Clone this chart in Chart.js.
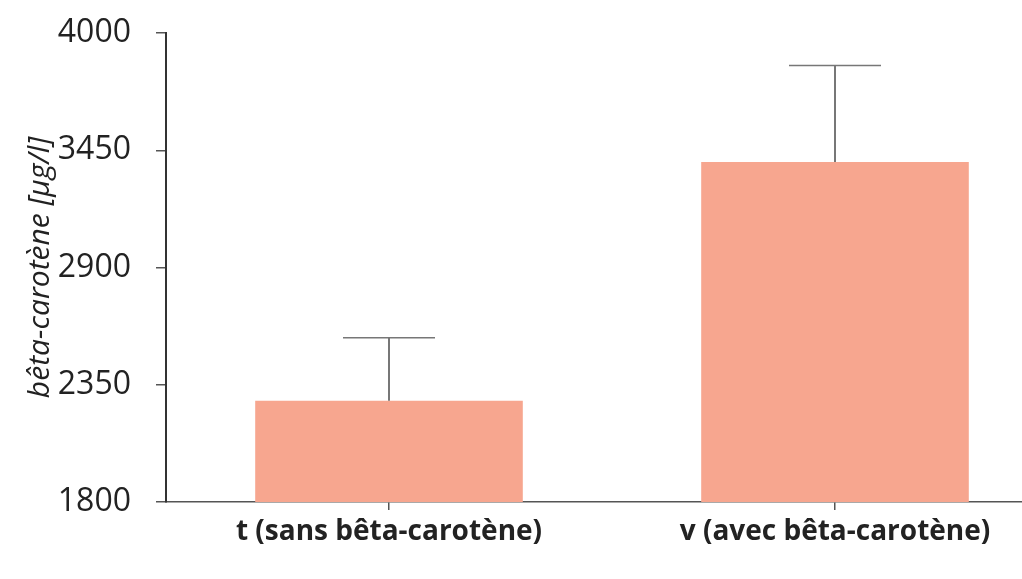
<!DOCTYPE html>
<html>
<head>
<meta charset="utf-8">
<script src="https://cdn.jsdelivr.net/npm/chart.js@4"></script>
<style>
  html, body { margin: 0; padding: 0; background: #fff; overflow: hidden; }
  #wrap { width: 1022px; height: 579px; overflow: hidden; }
  #box { width: 1058px; height: 579px; }
</style>
</head>
<body>
<div id="wrap"><div id="box"><canvas id="myChart"></canvas></div></div>
<script>
const categories = ['t (sans bêta-carotène)', 'v (avec bêta-carotène)'];
const values = [2275, 3395];
const errors = [295, 452];
const yTicks = [1800, 2350, 2900, 3450, 4000];

// moustaches d'erreur dessinées au-dessus des barres
const errorBars = {
    id: 'errorBars',
    afterDatasetsDraw(chart) {
        const ctx = chart.ctx;
        const yScale = chart.scales.y;
        const meta = chart.getDatasetMeta(0);
        ctx.save();
        ctx.strokeStyle = '#777';
        meta.data.forEach(function (bar, i) {
            const yTop = yScale.getPixelForValue(values[i] + errors[i]);
            ctx.lineWidth = 2;
            ctx.beginPath();
            ctx.moveTo(bar.x, bar.y);
            ctx.lineTo(bar.x, yTop);
            ctx.stroke();
            ctx.lineWidth = 1.5;
            ctx.beginPath();
            ctx.moveTo(bar.x - 46, yTop);
            ctx.lineTo(bar.x + 46, yTop);
            ctx.stroke();
        });
        ctx.restore();
    }
};

const ctx = document.getElementById('myChart').getContext('2d');
new Chart(ctx, {
    type: 'bar',
    data: {
        labels: categories,
        datasets: [{
            data: values,
            backgroundColor: 'rgb(247,166,143)',
            barPercentage: 0.6,
            categoryPercentage: 1
        }]
    },
    options: {
        responsive: true,
        maintainAspectRatio: false,
        animation: false,
        layout: { padding: { top: 33, right: 0, bottom: 0, left: 0 } },
        plugins: {
            legend: { display: false },
            tooltip: { enabled: false }
        },
        scales: {
            x: {
                afterFit: function (scale) { scale.height = 77; },
                grid: { drawOnChartArea: false, offset: false, tickLength: 8, color: '#555', lineWidth: 1.5 },
                border: { color: '#555', width: 1.5 },
                ticks: {
                    color: '#222',
                    padding: 5,
                    font: { family: "'Open Sans', sans-serif", size: 28, weight: 'bold' }
                }
            },
            y: {
                min: 1800,
                max: 4000,
                afterFit: function (scale) {
                    scale.width = 166;
                    scale.paddingTop = 0;
                    scale.paddingBottom = 0;
                },
                afterBuildTicks: function (scale) {
                    scale.ticks = yTicks.map(function (v) { return { value: v }; });
                },
                grid: { drawOnChartArea: false, tickLength: 10, color: '#555', lineWidth: 1.5 },
                border: { color: '#333', width: 2 },
                ticks: {
                    color: '#222',
                    padding: 25,
                    font: { family: "'Open Sans', sans-serif", size: 32 },
                    callback: function (v) { return String(v); }
                },
                title: {
                    display: true,
                    text: 'bêta-carotène [µg/l]',
                    color: '#222',
                    padding: { top: 22, bottom: 0 },
                    font: { family: "'Open Sans', sans-serif", size: 30, style: 'italic' }
                }
            }
        }
    },
    plugins: [errorBars]
});
</script>
</body>
</html>
